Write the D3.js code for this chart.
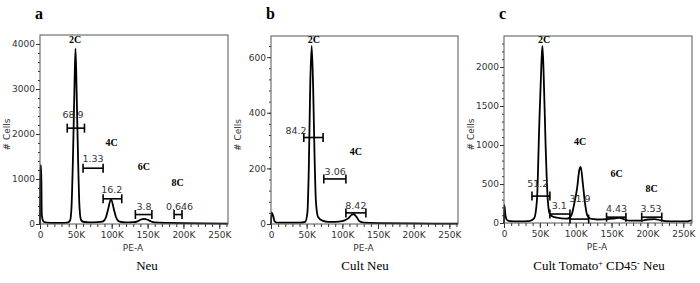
<!DOCTYPE html>
<html>
<head>
    <title>DNA content histograms</title>
    <script src="https://d3js.org/d3.v7.min.js"></script>
    <style>
        body { margin: 0; background: #fff; }
        svg { display: block; }
        .hist { fill: none; stroke: #000; stroke-width: 1.8; stroke-linejoin: round; }
        .frame { fill: none; stroke: #555; stroke-width: 1; }
        .tick-label { font-family: "DejaVu Sans", Verdana, sans-serif; font-size: 9px; fill: #333; }
        .gate line { stroke: #000; stroke-width: 1.6; }
        .gate-label { font-family: "DejaVu Sans", Verdana, sans-serif; font-size: 9.5px; fill: #333; text-anchor: middle; }
        .peak-label { font-family: "Liberation Serif", "Times New Roman", serif; font-weight: bold; font-size: 10px; fill: #000; text-anchor: middle; }
        .panel-letter { font-family: "Liberation Serif", "Times New Roman", serif; font-weight: bold; font-size: 16px; }
        .panel-title { font-family: "Liberation Serif", "Times New Roman", serif; font-size: 13px; text-anchor: middle; }
    </style>
</head>
<body>
    <svg width="700" height="283"></svg>
    <script>
        // x ticks shared by all panels (PE-A)
        var xTickValues = [0, 50000, 100000, 150000, 200000, 250000];
        var xTickLabels = ["0", "50K", "100K", "150K", "200K", "250K"];
        var xMax = 262144;

        // histograms: [PE-A in K, # cells]
        var neuHist = [[0,0],[0.4,1300],[1.6,1300],[2.5,200],[4,80],[6,40],[10,30],[20,25],[30,25],[38,30],[42,80],[44,400],[46,1500],[48,3000],[49.5,3900],[51,3000],[53,1500],[55,400],[57,100],[60,50],[70,35],[80,40],[88,60],[92,150],[95,330],[99,555],[103,330],[106,150],[110,60],[120,35],[130,40],[136,60],[141,100],[145,115],[150,95],[155,55],[160,35],[180,25],[200,20],[230,15],[262,10]];
        var cultHist = [[0,0],[0.8,42],[3,30],[5,10],[8,5],[20,5],[40,5],[48,8],[51,40],[53,200],[55,500],[57,640],[59,500],[61,250],[63,80],[66,25],[72,12],[80,8],[90,8],[100,10],[105,15],[109,22],[113,33],[116,35],[120,25],[124,10],[130,5],[150,3],[200,2],[262,1]];
        var tomHist = [[0,0],[0.5,230],[2,100],[4,40],[8,25],[20,20],[35,25],[42,60],[46,300],[49,1200],[52,2000],[53.5,2270],[55,2000],[58,1000],[61,300],[64,110],[70,75],[80,60],[88,55],[94,100],[98,250],[102,450],[105,680],[107,720],[110,500],[113,250],[116,100],[120,55],[130,45],[145,50],[155,60],[161,65],[167,50],[175,30],[190,30],[200,45],[210,50],[218,35],[225,25],[240,20],[255,20],[260,30],[262,30]];

        // gates: [from K, to K, bar count, label, label x K, label baseline count]
        var neuGates = [[38,62,2130,"68.9",46,2355],[60,88,1240,"1.33",74,1380],[88,114,560,"16.2",100,690],[133,156,210,"3.8",145,310],[187,198,210,"0.646",194.5,310]];
        var cultGates = [[46,73,311,"84.2",35,324],[74,105,162,"3.06",90,176],[105,133,40,"8.42",119,54]];
        var tomGates = [[39,64,345,"51.2",47,460],[64,92,115,"3.1",77,180],[92,118,50,"31.9",106,270],[143,170,75,"4.43",157,140],[192,220,75,"3.53",205,140]];

        // peak labels: [text, x K, baseline count]
        var neuPeaks = [["2C",49,4020],["4C",100,1730],["6C",145,1200],["8C",192,845]];
        var cultPeaks = [["2C",60,651],["4C",119,248]];
        var tomPeaks = [["2C",56,2307],["4C",106,1000],["6C",157,590],["8C",206,397]];

        // y ticks
        var neuYTicks = [0, 1000, 2000, 3000, 4000];
        var cultYTicks = [0, 200, 400, 600];
        var tomYTicks = [0, 500, 1000, 1500, 2000];

        var panels = [
            {letter: "a", title: "Neu", hist: neuHist, gates: neuGates, peaks: neuPeaks, yTicks: neuYTicks, yMax: 4200, yMinor: 200,
             left: 40, right: 228, top: 35, bottom: 224, titleX: 147},
            {letter: "b", title: "Cult Neu", hist: cultHist, gates: cultGates, peaks: cultPeaks, yTicks: cultYTicks, yMax: 676, yMinor: 40,
             left: 271, right: 458, top: 36, bottom: 224, titleX: 365},
            {letter: "c", title: "tomato", hist: tomHist, gates: tomGates, peaks: tomPeaks, yTicks: tomYTicks, yMax: 2397, yMinor: 100,
             left: 504, right: 692, top: 36, bottom: 223, titleX: 599}
        ];

        var svg = d3.select("svg");

        panels.forEach(function(p) {
            var g = svg.append("g");
            var x = d3.scaleLinear().domain([0, xMax]).range([p.left, p.right]);
            var y = d3.scaleLinear().domain([0, p.yMax]).range([p.bottom, p.top]);

            // minor ticks
            var xMinor = d3.range(0, 260001, 10000);
            g.append("g")
                .attr("transform", "translate(0," + p.bottom + ")")
                .call(d3.axisBottom(x).tickValues(xMinor).tickSize(3).tickFormat(""))
                .call(function(s) { s.select(".domain").remove(); s.selectAll("line").attr("stroke", "#333"); });
            var yMinorTicks = d3.range(0, p.yMax, p.yMinor);
            g.append("g")
                .attr("transform", "translate(" + p.left + ",0)")
                .call(d3.axisLeft(y).tickValues(yMinorTicks).tickSize(2).tickFormat(""))
                .call(function(s) { s.select(".domain").remove(); s.selectAll("line").attr("stroke", "#333"); });

            // major axes
            var xa = g.append("g")
                .attr("transform", "translate(0," + p.bottom + ")")
                .call(d3.axisBottom(x).tickValues(xTickValues).tickSize(5).tickPadding(3)
                    .tickFormat(function(d, i) { return xTickLabels[i]; }));
            xa.select(".domain").remove();
            xa.selectAll("line").attr("stroke", "#333");
            xa.selectAll("text").attr("class", "tick-label").attr("font-family", null).attr("font-size", null).attr("fill", null);

            var ya = g.append("g")
                .attr("transform", "translate(" + p.left + ",0)")
                .call(d3.axisLeft(y).tickValues(p.yTicks).tickSize(4).tickPadding(1).tickFormat(d3.format("d")));
            ya.select(".domain").remove();
            ya.selectAll("line").attr("stroke", "#333");
            ya.selectAll("text").attr("class", "tick-label").attr("font-family", null).attr("font-size", null).attr("fill", null);

            // histogram line
            var line = d3.line()
                .x(function(d) { return x(d[0] * 1000); })
                .y(function(d) { return y(d[1]); })
                .curve(d3.curveMonotoneX);
            g.append("path").datum(p.hist).attr("class", "hist").attr("d", line);

            // frame
            g.append("rect").attr("class", "frame")
                .attr("x", p.left).attr("y", p.top)
                .attr("width", p.right - p.left).attr("height", p.bottom - p.top);

            // gates
            var gates = g.selectAll(".gate").data(p.gates).enter().append("g").attr("class", "gate");
            gates.append("line")
                .attr("x1", function(d) { return x(d[0] * 1000); })
                .attr("x2", function(d) { return x(d[1] * 1000); })
                .attr("y1", function(d) { return y(d[2]); })
                .attr("y2", function(d) { return y(d[2]); });
            [0, 1].forEach(function(k) {
                gates.append("line")
                    .attr("x1", function(d) { return x(d[k] * 1000); })
                    .attr("x2", function(d) { return x(d[k] * 1000); })
                    .attr("y1", function(d) { return y(d[2]) - 4.5; })
                    .attr("y2", function(d) { return y(d[2]) + 4.5; });
            });
            gates.append("text").attr("class", "gate-label")
                .attr("x", function(d) { return x(d[4] * 1000); })
                .attr("y", function(d) { return y(d[5]); })
                .text(function(d) { return d[3]; });

            // peak labels
            g.selectAll(".peak-label").data(p.peaks).enter().append("text")
                .attr("class", "peak-label")
                .attr("x", function(d) { return x(d[1] * 1000); })
                .attr("y", function(d) { return y(d[2]); })
                .text(function(d) { return d[0]; });

            // axis titles
            g.append("text").attr("class", "tick-label")
                .attr("x", (p.left + p.right) / 2 - 1).attr("y", p.bottom + 27)
                .attr("text-anchor", "middle").text("PE-A");
            g.append("text").attr("class", "tick-label")
                .attr("transform", "translate(" + (p.left - 30) + "," + ((p.top + p.bottom) / 2 + 5) + ") rotate(-90)")
                .attr("text-anchor", "middle").text("# Cells");

            // panel letter
            g.append("text").attr("class", "panel-letter")
                .attr("x", p.left - 5).attr("y", 19).text(p.letter);

            // panel title
            var t = g.append("text").attr("class", "panel-title")
                .attr("x", p.titleX).attr("y", 270);
            if (p.title === "tomato") {
                t.append("tspan").text("Cult Tomato");
                t.append("tspan").attr("dy", -4).attr("font-size", "8px").text("+");
                t.append("tspan").attr("dy", 4).text(" CD45");
                t.append("tspan").attr("dy", -4).attr("font-size", "8px").text("-");
                t.append("tspan").attr("dy", 4).text(" Neu");
            } else {
                t.text(p.title);
            }
        });
    </script>
</body>
</html>
